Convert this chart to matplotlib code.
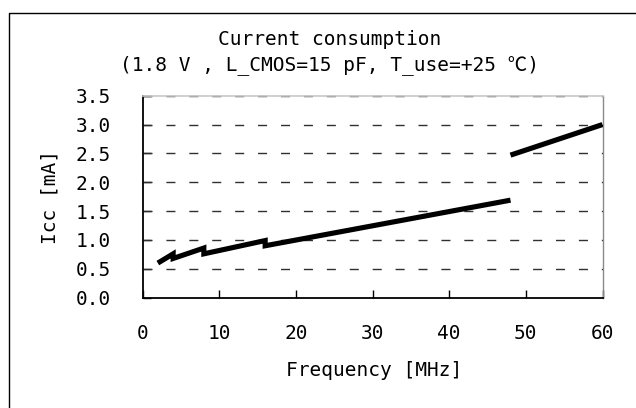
import matplotlib
matplotlib.use("Agg")
import matplotlib.pyplot as plt
from matplotlib.lines import Line2D

# ---- data ----
freq_low = [2, 4, 4, 8, 8, 16, 16, 48]
icc_low = [0.60, 0.76, 0.68, 0.86, 0.76, 0.99, 0.90, 1.69]
freq_high = [48, 60]
icc_high = [2.47, 3.00]

x_ticks = [0, 10, 20, 30, 40, 50, 60]
y_ticks = [0.0, 0.5, 1.0, 1.5, 2.0, 2.5, 3.0, 3.5]
y_tick_labels = ["0.0", "0.5", "1.0", "1.5", "2.0", "2.5", "3.0", "3.5"]

title_1 = "Current consumption"
title_2 = "(1.8 V , L_CMOS=15 pF, T_use=+25 \u2103)"
x_label = "Frequency [MHz]"
y_label = "Icc [mA]"

FONT = ["DejaVu Sans Mono", "Noto Sans CJK JP", "DejaVu Sans"]
plt.rcParams["font.family"] = FONT
FS = 14

W, H = 636, 408
fig = plt.figure(figsize=(W / 100, H / 100), dpi=100)

# axes placement (pixels)
L, R, T, B = 142.5, 602.5, 95.7, 297.7
ax = fig.add_axes([L / W, 1 - B / H, (R - L) / W, (B - T) / H])

ax.plot(freq_low, icc_low, color="black", lw=3.7, solid_joinstyle="miter",
        solid_capstyle="butt", zorder=3)
ax.plot(freq_high, icc_high, color="black", lw=3.7, solid_joinstyle="miter",
        solid_capstyle="butt", zorder=3)

ax.set_xlim(0, 60)
ax.set_ylim(0, 3.5)
ax.set_xticks(x_ticks)
ax.set_xticklabels([str(v) for v in x_ticks], fontsize=FS)
ax.set_yticks(y_ticks)
ax.set_yticklabels(y_tick_labels, fontsize=FS)

ax.tick_params(axis="both", direction="in", length=6, width=1.0, color="black")
ax.tick_params(axis="y", pad=23)
ax.tick_params(axis="x", pad=19)

for yv in y_ticks[1:]:
    ax.axhline(yv, color="#303030", lw=1.0, linestyle=(0, (6.5, 10)), zorder=2,
               clip_on=False)

for s in ["left", "bottom"]:
    ax.spines[s].set_color("black")
    ax.spines[s].set_linewidth(1.3)
ax.spines["top"].set_color("#c8c8c8")
ax.spines["top"].set_linewidth(1.2)
ax.spines["right"].set_color("#8a8a8a")
ax.spines["right"].set_linewidth(1.0)

fig.text(330 / W, 1 - 39.5 / H, title_1, ha="center", va="center", fontsize=FS)
fig.text(330 / W, 1 - 65.5 / H, title_2, ha="center", va="center", fontsize=FS)
fig.text(374 / W, 1 - 371 / H, x_label, ha="center", va="center", fontsize=FS)
fig.text(50.5 / W, 1 - 197 / H, y_label, ha="center", va="center", fontsize=FS,
         rotation=90)

# outer chart border (cut by image edges at right and bottom)
bx, by = 9 / W, 1 - 13 / H
fig.add_artist(Line2D([bx, bx, 1.01], [-0.01, by, by], transform=fig.transFigure,
                      color="black", lw=1.0))

fig.savefig("out.png", dpi=100)
